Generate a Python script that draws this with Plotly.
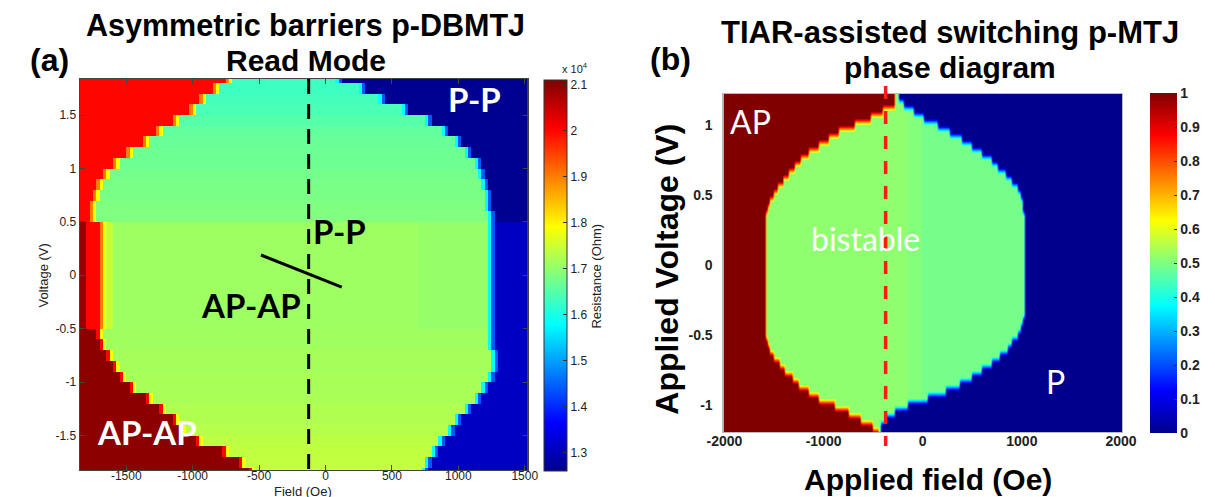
import numpy as np
import plotly.graph_objects as go

W, H = 1215, 497

# ---------------- panel (a) data: rows of voltage (bottom -> top) ----------------
volt_a = [round(-1.85 + 0.1 * i, 2) for i in range(38)]
left_a = [-520, -590, -730, -930, -1040, -1110, -1190, -1300, -1420, -1500, -1560, -1610, -1640, -1680,
          -1640, -1640, -1640, -1640, -1640, -1640, -1640, -1640, -1640, -1640,
          -1715, -1715, -1700, -1670, -1620, -1550, -1440, -1330, -1220, -1090, -980, -890, -790, -690]
right_a = [760, 780, 830, 880, 940, 1000, 1080, 1150, 1210, 1250, 1270, 1270, 1260, 1250,
           1245, 1245, 1245, 1245, 1245, 1245, 1245, 1245, 1245, 1245,
           1240, 1235, 1225, 1210, 1185, 1140, 1080, 990, 900, 780, 600, 420, 270, 110]
inner_a = [17450, 17400, 17380, 17350, 17300, 17250, 17250, 17200, 17180, 17180, 17150, 17150, 17120, 17120,
           17100, 17100, 17100, 17100, 17100, 17100, 17100, 17100, 17100, 17100,
           16850, 16850, 16800, 16800, 16750, 16700, 16700, 16650, 16600, 16500, 16400, 16350, 16300, 16300]
ap_a = [21000] * 14 + [20000] * 10 + [20000] * 14
p_a = [13100] * 24 + [12650] * 14
cbar_a_ticks = [13000, 14000, 15000, 16000, 17000, 18000, 19000, 20000, 21000]
cbar_a_text = ["1.3", "1.4", "1.5", "1.6", "1.7", "1.8", "1.9", "2", "2.1"]

# ---------------- panel (b) data: rows of voltage (bottom -> top) ----------------
volt_b = [round(-1.2 + 0.05 * i, 2) for i in range(49)]
left_b = [-450, -510, -620, -740, -890, -1050, -1150, -1245, -1315, -1385, -1450, -1510, -1545, -1577, -1590, -1595,
          -1595, -1595, -1595, -1595, -1595, -1595, -1595, -1595, -1595, -1595, -1595, -1595, -1595, -1595, -1595,
          -1590, -1575, -1545, -1510, -1460, -1405, -1350, -1290, -1230, -1150, -1040, -940, -840, -680, -520,
          -400, -290, -280]
right_b = [-420, -420, -380, -280, -150, 50, 230, 380, 490, 600, 700, 780, 850, 900, 950, 990, 1020, 1035,
           1040, 1040, 1040, 1040, 1040, 1040, 1040, 1040, 1040, 1040, 1040, 1040, 1040,
           1030, 1020, 1010, 990, 950, 900, 830, 760, 690, 600, 490, 390, 275, 150, 20, -90, -180, -250]
ap_b, p_b = 1.0, 0.0
bist_b = [0.515, 0.503, 0.49]   # bistable level: left, centre, right part

# ---------------- build grids ----------------
field_a = np.arange(-1837.5, 1530, 25.0)
z_a = []
for i, v in enumerate(volt_a):
    L, R = left_a[i], right_a[i]
    row = []
    for f in field_a:
        if f < L - 50:
            val = ap_a[i]
            if abs(v) < 0.5 and f < -1790:
                val = 20900
        elif f < L - 25:
            val = 20000 if ap_a[i] > 20500 else 19000
        elif f < L:
            val = 17900
        elif f < R - 25:
            val = inner_a[i]
            if abs(v) < 0.5 and f > 700:
                val = 17030
            if abs(v) < 0.5 and f < L + 50:
                val = 17400
        elif f < R:
            val = 15800
        elif f < R + 25:
            val = 14400
        else:
            val = p_a[i]
        row.append(val)
    z_a.append(row)

field_b = np.arange(-2000, 2001, 20.0)
z_b = []
for i, v in enumerate(volt_b):
    L, R = left_b[i], right_b[i]
    row = []
    for f in field_b:
        if f < L:
            val = ap_b
        elif f < R:
            val = bist_b[0] if f < -150 else (bist_b[1] if f < 0 else bist_b[2])
        else:
            val = p_b
        row.append(val)
    z_b.append(row)

jet = [[0, 'rgb(0,0,140)'], [0.125, 'rgb(0,0,255)'], [0.375, 'rgb(0,255,255)'],
       [0.625, 'rgb(255,255,0)'], [0.875, 'rgb(255,0,0)'], [1, 'rgb(128,0,0)']]


def px(x):
    return x / W


def py(y):
    return 1 - y / H


fig = go.Figure()
fig.add_trace(go.Heatmap(
    x=field_a, y=volt_a, z=z_a, colorscale=jet, zmin=12600, zmax=21100,
    xaxis='x', yaxis='y', hoverinfo='skip',
    colorbar=dict(x=px(533), xanchor='left', y=py(71.7), yanchor='top',
                  len=391.3 / H, lenmode='fraction', thickness=23, thicknessmode='pixels',
                  xpad=0, ypad=0, outlinewidth=1, outlinecolor='#333',
                  ticks='inside', ticklen=4, tickcolor='#333',
                  tickvals=cbar_a_ticks, ticktext=cbar_a_text,
                  tickfont=dict(family='Liberation Sans', size=12, color='#222'))
))
fig.add_trace(go.Heatmap(
    x=field_b, y=volt_b, z=z_b, colorscale=jet, zmin=0, zmax=1, zsmooth='best',
    xaxis='x2', yaxis='y2', hoverinfo='skip',
    colorbar=dict(x=px(1155), xanchor='left', y=py(85), yanchor='top',
                  len=340 / H, lenmode='fraction', thickness=27, thicknessmode='pixels',
                  xpad=0, ypad=0, outlinewidth=0,
                  ticks='inside', ticklen=3, tickcolor='#333',
                  tickvals=[0, 0.1, 0.2, 0.3, 0.4, 0.5, 0.6, 0.7, 0.8, 0.9, 1],
                  ticktext=['0', '0.1', '0.2', '0.3', '0.4', '0.5', '0.6', '0.7', '0.8', '0.9', '1'],
                  tickfont=dict(family='Liberation Sans', size=14, color='#222', weight='bold'))
))

tick_a = dict(family='Liberation Sans', size=12, color='#222')
tick_b = dict(family='Liberation Sans', size=14, color='#222', weight='bold')

fig.update_layout(
    width=W, height=H, margin=dict(l=0, r=0, t=0, b=0),
    paper_bgcolor='white', plot_bgcolor='white', showlegend=False,
    xaxis=dict(domain=[px(56), px(516.7)], range=[-1852, 1525], anchor='y',
               tickvals=[-1500, -1000, -500, 0, 500, 1000, 1500],
               ticktext=['-1500', '-1000', '-500', '0', '500', '1000', '1500'],
               ticks='inside', ticklen=5, tickcolor='#444', showline=True, linecolor='#444',
               linewidth=1, mirror='ticks', showgrid=False, zeroline=False, tickfont=tick_a,
               ticklabelstandoff=-6),
    yaxis=dict(domain=[py(462.3), py(71)], range=[-1.826, 1.838], anchor='x',
               tickvals=[-1.5, -1, -0.5, 0, 0.5, 1, 1.5],
               ticktext=['-1.5', '-1', '-0.5', '0', '0.5', '1', '1.5'],
               ticks='inside', ticklen=5, tickcolor='#444', showline=True, linecolor='#444',
               linewidth=1, mirror='ticks', showgrid=False, zeroline=False, tickfont=tick_a),
    xaxis2=dict(domain=[px(717.3), px(1126.7)], range=[-2010, 2010], anchor='y2',
                tickvals=[-2000, -1000, 0, 1000, 2000],
                ticktext=['-2000', '-1000', '0', '1000', '2000'],
                ticks='', showline=True, linecolor='#bbb', linewidth=1, mirror=True,
                showgrid=False, zeroline=False, tickfont=tick_b, ticklabelstandoff=-4),
    yaxis2=dict(domain=[py(424.3), py(86)], range=[-1.197, 1.219], anchor='x2',
                tickvals=[-1, -0.5, 0, 0.5, 1], ticktext=['-1', '-0.5', '0', '0.5', '1'],
                ticks='', showline=True, linecolor='#bbb', linewidth=1, mirror=True,
                showgrid=False, zeroline=False, tickfont=tick_b, ticklabelstandoff=7),
)

shapes = [
    dict(type='line', xref='x', yref='paper', x0=-127, x1=-127, y0=py(71), y1=py(462.3),
         line=dict(color='black', width=3, dash='15px,10px')),
    dict(type='line', xref='x', yref='y', x0=-486, y0=0.19, x1=122, y1=-0.11,
         line=dict(color='black', width=3)),
    dict(type='line', xref='x2', yref='paper', x0=-374, x1=-374, y0=py(78), y1=py(438),
         line=dict(color='#ff1a1a', width=3.5, dash='13px,12px')),
]
fig.update_layout(shapes=shapes)

title_font = dict(family='Liberation Sans', size=30, color='black', weight='bold')
lato_bold = dict(family='Lato', size=33, weight='bold')
lato_reg = dict(family='Lato', size=32, color='white')
ann = [
    dict(text='Asymmetric barriers p-DBMTJ', x=px(288), y=24, font=dict(title_font, size=30.5)),
    dict(text='Read Mode', x=px(289), y=58, font=title_font),
    dict(text='(a)', x=px(25), y=58, font=dict(family='Liberation Sans', size=32, color='black', weight='bold')),
    dict(text='TIAR-assisted switching p-MTJ', x=px(950), y=31, font=dict(title_font, size=31)),
    dict(text='phase diagram', x=px(950), y=65, font=title_font),
    dict(text='(b)', x=px(663), y=57, font=dict(family='Liberation Sans', size=32, color='black', weight='bold')),
    dict(text='Field (Oe)', x=px(286), y=486, font=dict(family='Liberation Sans', size=13, color='#222')),
    dict(text='Voltage (V)', x=px(19), y=267, textangle=-90, font=dict(family='Liberation Sans', size=13, color='#222')),
    dict(text='Resistance (Ohm)', x=px(586), y=268, textangle=-90, font=dict(family='Liberation Sans', size=13, color='#222')),
    dict(text='x 10<sup>4</sup>', x=px(565), y=62, font=dict(family='Liberation Sans', size=11, color='#222')),
    dict(text='Applied field (Oe)', x=px(927), y=477, font=dict(family='Liberation Sans', size=30, color='black', weight='bold')),
    dict(text='Applied Voltage (V)', x=px(659), y=261, textangle=-90, font=dict(family='Liberation Sans', size=32, color='black', weight='bold')),
    dict(text='P-P', x=px(462), y=98, font=dict(lato_bold, color='white')),
    dict(text='P-P', x=px(323), y=230, font=dict(lato_bold, color='black')),
    dict(text='AP-AP', x=px(232), y=304, font=dict(lato_bold, color='black')),
    dict(text='AP-AP', x=px(125), y=431, font=dict(lato_bold, color='white')),
    dict(text='AP', x=px(745), y=120, font=lato_reg),
    dict(text='bistable', x=px(863), y=237, font=lato_reg),
    dict(text='P', x=px(1058), y=380, font=lato_reg),
]
for a in ann:
    # vertical text is centred geometrically; horizontal text is lifted so caps sit on the measured centre
    lift = 0 if a.get('textangle') else 0.2 * a['font']['size']
    a['y'] = py(a['y'] - lift)
    a.update(xref='paper', yref='paper', showarrow=False, xanchor='center', yanchor='middle')
fig.update_layout(annotations=ann)

fig.write_html('out.html')
